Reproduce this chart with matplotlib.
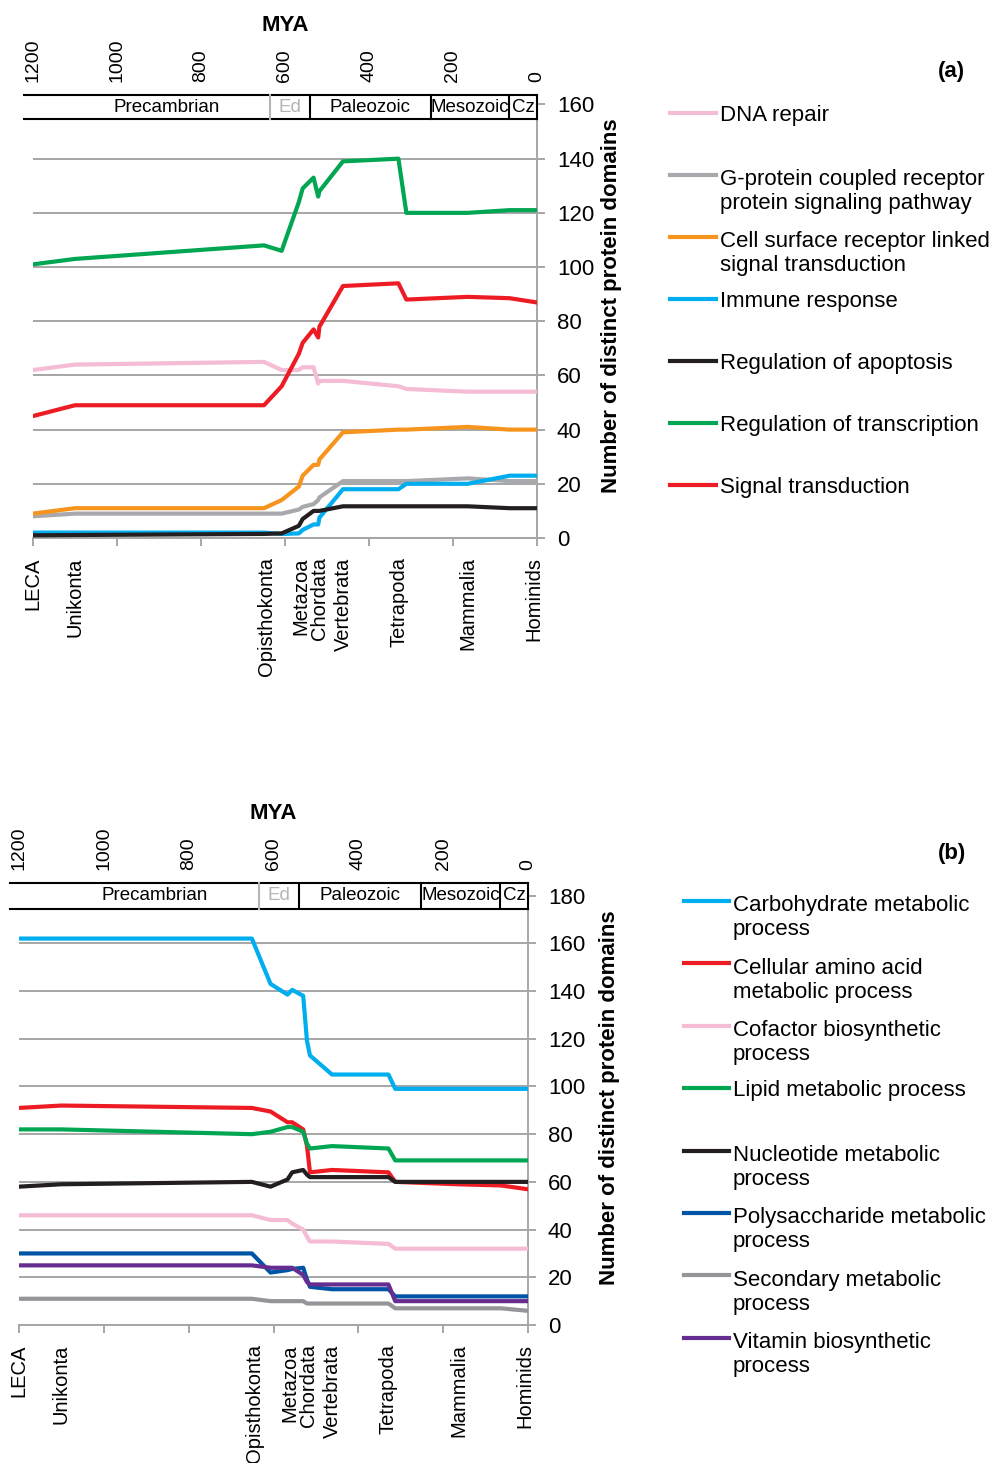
import numpy as np
import matplotlib
matplotlib.use("Agg")
import matplotlib.pyplot as plt
from matplotlib.patches import Rectangle
from matplotlib.lines import Line2D

plt.rcParams["font.family"] = ["Liberation Sans", "DejaVu Sans"]

# ---- panel (a): signalling / regulation ----
mya_a = [1200, 1100, 650, 608, 567, 558, 532, 521, 518, 462, 330, 311, 165, 65, 3]
dna_repair = [62, 64, 65, 62, 62, 63, 63, 57, 58, 58, 56, 55, 54, 54, 54]
gpcr = [8, 9, 9, 9, 10.5, 11.5, 12.5, 14, 15, 21, 21, 21, 22, 21, 21]
cell_surface = [9, 11, 11, 14, 19, 23, 27, 27, 29, 39, 40, 40, 41, 40, 40]
immune = [2, 2, 2, 1.5, 1.7, 3, 5, 5, 7.5, 18, 18, 20, 20, 23, 23]
apoptosis = [1, 1.1, 1.5, 1.7, 4.5, 7, 10, 10, 10, 11.7, 11.7, 11.7, 11.7, 11, 11]
transcription = [101, 103, 108, 106, 124, 129, 133, 126, 128, 139, 140, 120, 120, 121, 121]
signal = [45, 49, 49, 56, 68, 72, 77, 74, 78, 93, 94, 88, 89, 88.5, 87]

labels_a = ["DNA repair",
            "G-protein coupled receptor\nprotein signaling pathway",
            "Cell surface receptor linked\nsignal transduction",
            "Immune response",
            "Regulation of apoptosis",
            "Regulation of transcription",
            "Signal transduction"]
colors_a = ["#f5bcd6", "#a7a9ac", "#f7941d", "#00aeef", "#231f20", "#00a651", "#ed1c24"]

# ---- panel (b): metabolism ----
mya_b = [1200, 1100, 651, 607, 567, 556, 530, 521, 514, 462, 329, 313, 165, 64, 4]
carbohydrate = [162, 162, 162, 143, 138.5, 140.5, 138, 119, 113, 105, 105, 99, 99, 99, 99]
amino_acid = [91, 92, 91, 89.5, 85, 85, 82, 75, 64, 65, 64, 60, 59, 58.5, 57]
cofactor = [46, 46, 46, 44, 44, 42.5, 40, 37, 35, 35, 34, 32, 32, 32, 32]
lipid = [82, 82, 80, 81, 83, 83, 81, 76, 74, 75, 74, 69, 69, 69, 69]
nucleotide = [58, 59, 60, 58, 61, 64, 65, 63, 62, 62, 62, 60, 60, 60, 60]
polysaccharide = [30, 30, 30, 22, 23, 23.5, 24, 19, 16, 15, 15, 12, 12, 12, 12]
secondary = [11, 11, 11, 10, 10, 10, 10, 9, 9, 9, 9, 7, 7, 7, 6]
vitamin = [25, 25, 25, 24, 24, 24, 21, 18, 17, 17, 17, 10, 10, 10, 10]

labels_b = ["Carbohydrate metabolic\nprocess",
            "Cellular amino acid\nmetabolic process",
            "Cofactor biosynthetic\nprocess",
            "Lipid metabolic process",
            "Nucleotide metabolic\nprocess",
            "Polysaccharide metabolic\nprocess",
            "Secondary metabolic\nprocess",
            "Vitamin biosynthetic\nprocess"]
colors_b = ["#00aeef", "#ed1c24", "#f5bcd6", "#00a651", "#231f20", "#0054a6", "#939598", "#662d91"]

# clades along the bottom, geological eras along the top
clades = ["LECA", "Unikonta", "Opisthokonta", "Metazoa", "Chordata",
          "Vertebrata", "Tetrapoda", "Mammalia", "Hominids"]
clade_mya = [1200, 1100, 645, 562, 517, 460, 329, 164, 7]
mya_ticks = [1200, 1000, 800, 600, 400, 200, 0]
eras = ["Precambrian", "Paleozoic", "Mesozoic", "Cz"]
era_start = [1221, 541, 252, 66]
era_end = [541, 252, 66, 0]
ediacaran = (635, 541)

GRID = "#a6a6a6"
W, H = 993, 1463
fig = plt.figure(figsize=(W / 100, H / 100), dpi=100)


def fx(px):
    return px / W


def fy(py):
    return 1 - py / H


def draw_panel(ax, mya, series, colors, ytop, bar_lo, ymax):
    for vals, col in zip(series, colors):
        ax.plot(mya, vals, color=col, lw=3, zorder=3)

    ax.set_xlim(1200, 0)
    ax.set_ylim(0, ytop)
    ax.set_yticks(range(0, ymax + 1, 20))
    ax.grid(axis="y", color=GRID, lw=1.4)
    ax.set_axisbelow(True)
    ax.yaxis.tick_right()
    ax.tick_params(axis="y", length=5.8, width=1.4, color=GRID, pad=8.5, labelsize=16)

    ax.xaxis.remove_overlapping_locs = False
    ax.set_xticks(mya_ticks)
    ax.set_xticklabels([])
    ax.set_xticks(clade_mya, minor=True)
    ax.set_xticklabels(clades, minor=True, rotation=90, fontsize=14.5)
    ax.tick_params(axis="x", which="major", length=5.8, width=1.4, color=GRID)
    ax.tick_params(axis="x", which="minor", length=0, pad=14)

    for s in ["left", "top"]:
        ax.spines[s].set_visible(False)
    ax.spines["right"].set_color(GRID)
    ax.spines["right"].set_linewidth(1.4)
    ax.spines["right"].set_bounds(0, bar_lo)
    ax.spines["bottom"].set_color(GRID)
    ax.spines["bottom"].set_linewidth(1.4)

    # geological time bar
    x0 = era_start[0]
    ax.add_patch(Rectangle((x0, bar_lo), -x0, ytop - bar_lo, facecolor="white",
                           edgecolor="none", clip_on=False, zorder=5))
    for yy in [bar_lo, ytop]:
        ax.plot([x0, 0], [yy, yy], color="black", lw=1.5, clip_on=False, zorder=6)
    for xx in era_end:
        ax.plot([xx, xx], [bar_lo, ytop], color="black", lw=1.5, clip_on=False, zorder=6)
    ax.plot([ediacaran[0]] * 2, [bar_lo, ytop], color="#b5b5b5", lw=1.5, clip_on=False, zorder=6)
    ymid = (bar_lo + ytop) / 2
    for name, s, e in zip(eras, era_start, era_end):
        ax.text((s + e) / 2, ymid, name, ha="center", va="center", fontsize=13.5,
                zorder=7, clip_on=False)
    ax.text(sum(ediacaran) / 2, ymid, "Ed", ha="center", va="center", fontsize=13.5,
            color="#b5b5b5", zorder=7, clip_on=False)

    top = ax.secondary_xaxis("top")
    top.set_xticks(mya_ticks)
    top.set_xticklabels([str(t) for t in mya_ticks], rotation=90)
    top.tick_params(length=0, pad=9, labelsize=14)
    top.spines["top"].set_visible(False)
    top.set_xlabel("MYA", fontsize=16, fontweight="bold", labelpad=6)


def draw_legend(labels, colors, x_line, x_text, y0, dy):
    # line sits level with the first text line; text baseline ~8px below it
    for i, (lab, col) in enumerate(zip(labels, colors)):
        y = y0 + i * dy
        extra = lab.count("\n") * 26.4
        fig.add_artist(Line2D([fx(x_line), fx(x_text - 4)], [fy(y), fy(y)], color=col, lw=3))
        fig.text(fx(x_text), fy(y + 8 + extra), lab, fontsize=16, ha="left", va="baseline")


ax_a = fig.add_axes([fx(33), fy(538), fx(537) - fx(33), fy(95) - fy(538)])
draw_panel(ax_a, mya_a,
           [dna_repair, gpcr, cell_surface, immune, apoptosis, transcription, signal],
           colors_a, 163.5, 154.6, 160)
draw_legend(labels_a, colors_a, 670, 720, 113, 62)
fig.text(fx(951), fy(72), "(a)", fontsize=16, fontweight="bold", ha="center", va="center")
fig.text(fx(611), fy(306), "Number of distinct protein domains", rotation=90,
         fontsize=16, fontweight="bold", ha="center", va="center")

ax_b = fig.add_axes([fx(19), fy(1325), fx(528) - fx(19), fy(883) - fy(1325)])
draw_panel(ax_b, mya_b,
           [carbohydrate, amino_acid, cofactor, lipid, nucleotide, polysaccharide, secondary, vitamin],
           colors_b, 185.3, 174.4, 180)
draw_legend(labels_b, colors_b, 684, 733, 901, 62.4)
fig.text(fx(952), fy(853), "(b)", fontsize=16, fontweight="bold", ha="center", va="center")
fig.text(fx(609), fy(1098), "Number of distinct protein domains", rotation=90,
         fontsize=16, fontweight="bold", ha="center", va="center")

fig.savefig("out.png", dpi=100)
